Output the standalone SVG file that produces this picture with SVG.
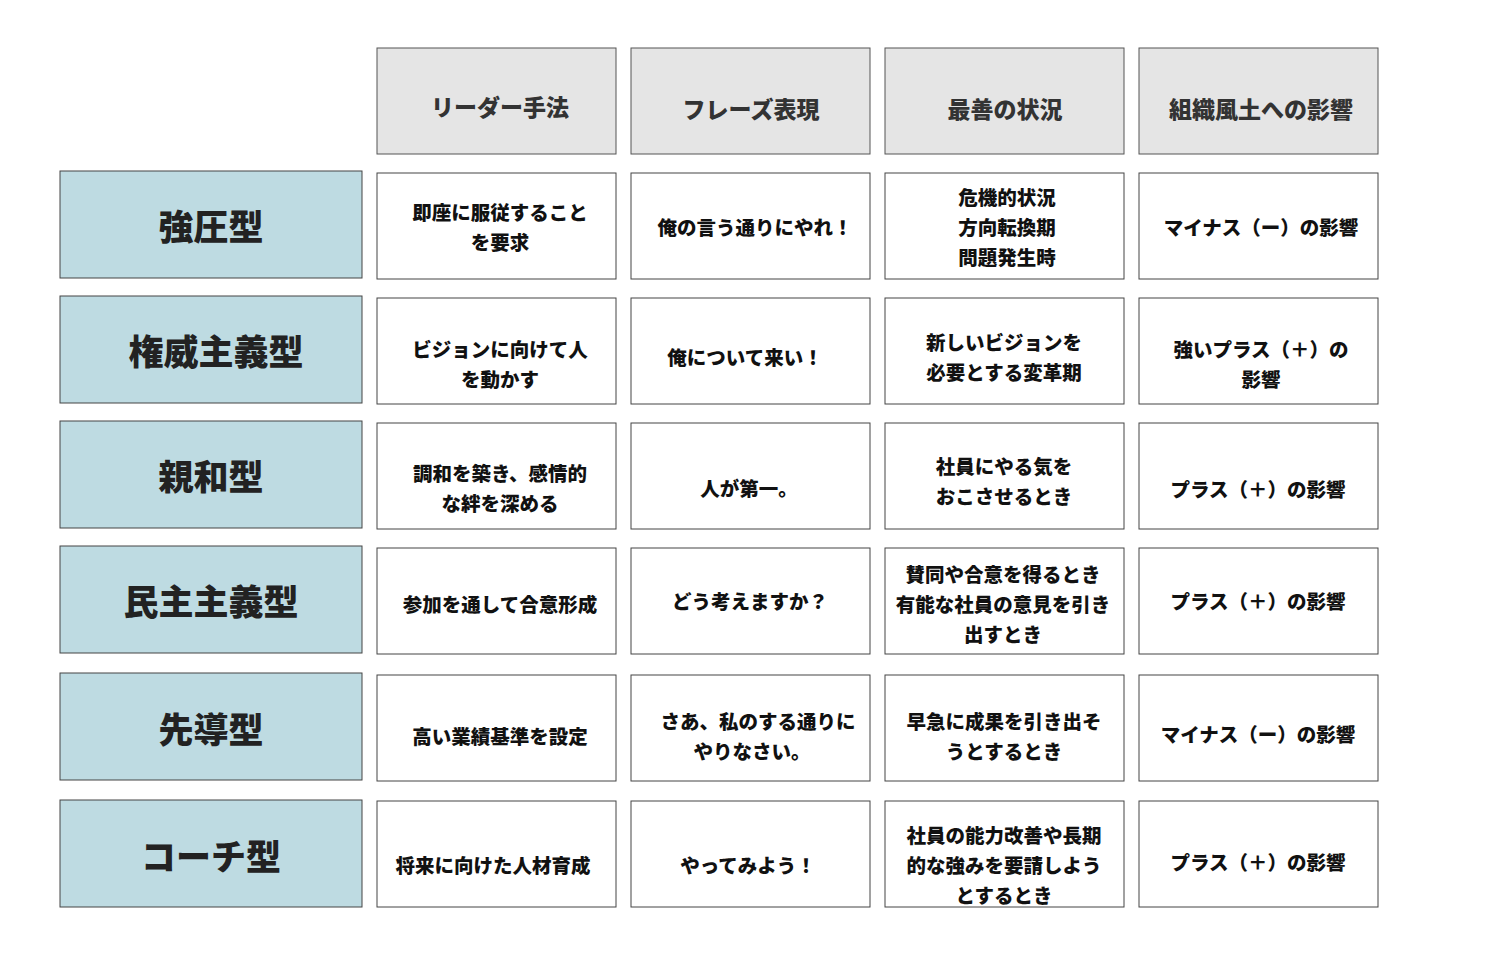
<svg xmlns="http://www.w3.org/2000/svg" width="1500" height="960" viewBox="0 0 1500 960">
<style>
.h{fill:#e5e5e5;stroke:#555;stroke-width:1}
.l{fill:#bedbe2;stroke:#444;stroke-width:1}
.c{fill:#fff;stroke:#444;stroke-width:1}
text{font-family:"Noto Sans CJK JP","Noto Sans CJK SC",sans-serif;font-weight:900;text-anchor:middle;dominant-baseline:central;fill:#111}
.ht{font-size:23px;fill:#333}
.lt{font-size:35px;fill:#222}
.ct{font-size:19.5px}
</style>
<rect width="1500" height="960" fill="#fff"/>
<g id="header">
<rect class="h" x="377" y="48" width="239" height="106"/><text class="ht" x="500" y="106">リーダー手法</text>
<rect class="h" x="631" y="48" width="239" height="106"/><text class="ht" x="751" y="108">フレーズ表現</text>
<rect class="h" x="885" y="48" width="239" height="106"/><text class="ht" x="1005" y="108">最善の状況</text>
<rect class="h" x="1139" y="48" width="239" height="106"/><text class="ht" x="1261" y="108">組織風土への影響</text>
</g>
<g id="row1">
<rect class="l" x="60" y="171" width="302" height="107"/><text class="lt" x="211" y="224">強圧型</text>
<rect class="c" x="377" y="173" width="239" height="106"/><text class="ct" x="500" y="211">即座に服従すること</text><text class="ct" x="500" y="241">を要求</text>
<rect class="c" x="631" y="173" width="239" height="106"/><text class="ct" x="755" y="226">俺の言う通りにやれ！</text>
<rect class="c" x="885" y="173" width="239" height="106"/><text class="ct" x="1007" y="196">危機的状況</text><text class="ct" x="1007" y="226">方向転換期</text><text class="ct" x="1007" y="256">問題発生時</text>
<rect class="c" x="1139" y="173" width="239" height="106"/><text class="ct" x="1261" y="226">マイナス（ー）の影響</text>
</g>
<g id="row2">
<rect class="l" x="60" y="296" width="302" height="107"/><text class="lt" x="216" y="349">権威主義型</text>
<rect class="c" x="377" y="298" width="239" height="106"/><text class="ct" x="500" y="348">ビジョンに向けて人</text><text class="ct" x="500" y="378">を動かす</text>
<rect class="c" x="631" y="298" width="239" height="106"/><text class="ct" x="745" y="356">俺について来い！</text>
<rect class="c" x="885" y="298" width="239" height="106"/><text class="ct" x="1004" y="341">新しいビジョンを</text><text class="ct" x="1004" y="371">必要とする変革期</text>
<rect class="c" x="1139" y="298" width="239" height="106"/><text class="ct" x="1261" y="348">強いプラス（＋）の</text><text class="ct" x="1261" y="378">影響</text>
</g>
<g id="row3">
<rect class="l" x="60" y="421" width="302" height="107"/><text class="lt" x="211" y="474">親和型</text>
<rect class="c" x="377" y="423" width="239" height="106"/><text class="ct" x="500" y="472">調和を築き、感情的</text><text class="ct" x="500" y="502">な絆を深める</text>
<rect class="c" x="631" y="423" width="239" height="106"/><text class="ct" x="749" y="487">人が第一。</text>
<rect class="c" x="885" y="423" width="239" height="106"/><text class="ct" x="1004" y="465">社員にやる気を</text><text class="ct" x="1004" y="495">おこさせるとき</text>
<rect class="c" x="1139" y="423" width="239" height="106"/><text class="ct" x="1258" y="488">プラス（＋）の影響</text>
</g>
<g id="row4">
<rect class="l" x="60" y="546" width="302" height="107"/><text class="lt" x="211" y="599">民主主義型</text>
<rect class="c" x="377" y="548" width="239" height="106"/><text class="ct" x="500" y="603">参加を通して合意形成</text>
<rect class="c" x="631" y="548" width="239" height="106"/><text class="ct" x="750" y="600">どう考えますか？</text>
<rect class="c" x="885" y="548" width="239" height="106"/><text class="ct" x="1003" y="573">賛同や合意を得るとき</text><text class="ct" x="1003" y="603">有能な社員の意見を引き</text><text class="ct" x="1003" y="633">出すとき</text>
<rect class="c" x="1139" y="548" width="239" height="106"/><text class="ct" x="1258" y="600">プラス（＋）の影響</text>
</g>
<g id="row5">
<rect class="l" x="60" y="673" width="302" height="107"/><text class="lt" x="211" y="727">先導型</text>
<rect class="c" x="377" y="675" width="239" height="106"/><text class="ct" x="500" y="735">高い業績基準を設定</text>
<rect class="c" x="631" y="675" width="239" height="106"/><text class="ct" x="758" y="720">さあ、私のする通りに</text><text class="ct" x="752" y="750">やりなさい。</text>
<rect class="c" x="885" y="675" width="239" height="106"/><text class="ct" x="1004" y="720">早急に成果を引き出そ</text><text class="ct" x="1004" y="750">うとするとき</text>
<rect class="c" x="1139" y="675" width="239" height="106"/><text class="ct" x="1258" y="733">マイナス（ー）の影響</text>
</g>
<g id="row6">
<rect class="l" x="60" y="800" width="302" height="107"/><text class="lt" x="211" y="854">コーチ型</text>
<rect class="c" x="377" y="801" width="239" height="106"/><text class="ct" x="493" y="864">将来に向けた人材育成</text>
<rect class="c" x="631" y="801" width="239" height="106"/><text class="ct" x="748" y="864">やってみよう！</text>
<rect class="c" x="885" y="801" width="239" height="106"/><text class="ct" x="1004" y="834">社員の能力改善や長期</text><text class="ct" x="1004" y="864">的な強みを要請しよう</text><text class="ct" x="1004" y="894">とするとき</text>
<rect class="c" x="1139" y="801" width="239" height="106"/><text class="ct" x="1258" y="861">プラス（＋）の影響</text>
</g>
<g id="connectors"/>
</svg>
